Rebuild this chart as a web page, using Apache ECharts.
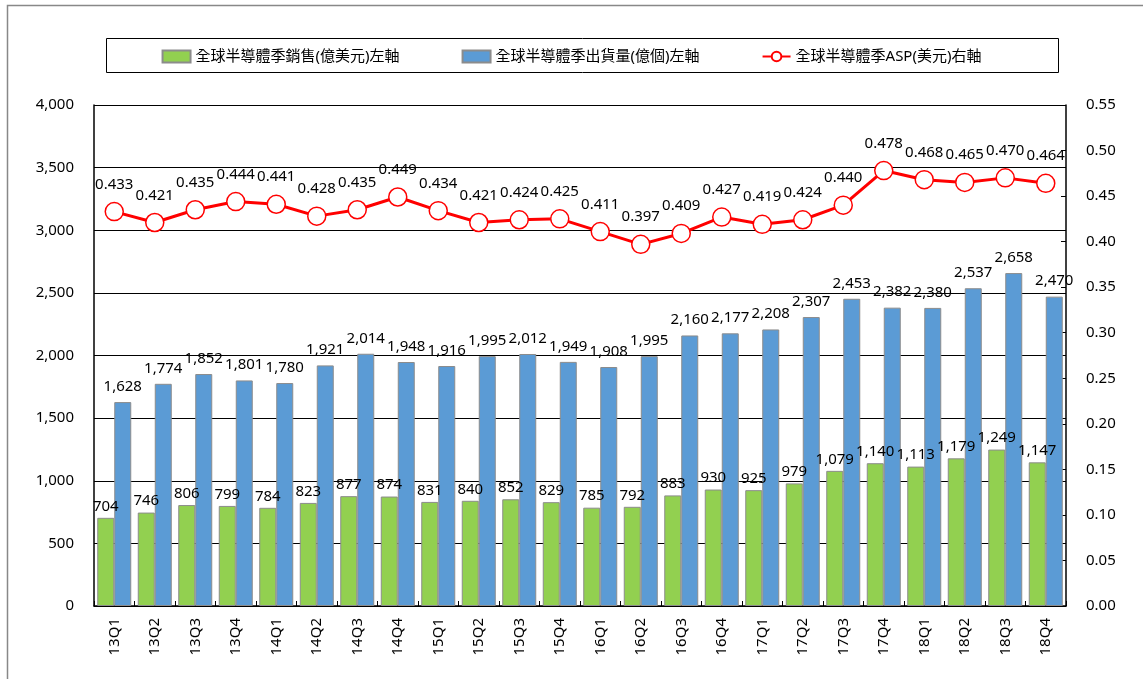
<!DOCTYPE html>
<html>
<head>
<meta charset="utf-8">
<script src="https://cdn.jsdelivr.net/npm/echarts@6/dist/echarts.min.js"></script>
<style>
  html, body { margin: 0; padding: 0; background: #fff; }
  #chart { width: 1143px; height: 679px; }
</style>
</head>
<body>
<div id="chart"></div>
<script>
// 季度
var quarters = ['13Q1','13Q2','13Q3','13Q4','14Q1','14Q2','14Q3','14Q4','15Q1','15Q2','15Q3','15Q4',
  '16Q1','16Q2','16Q3','16Q4','17Q1','17Q2','17Q3','17Q4','18Q1','18Q2','18Q3','18Q4'];
// 銷售(億美元)
var sales = [704,746,806,799,784,823,877,874,831,840,852,829,785,792,883,930,925,979,1079,1140,1113,1179,1249,1147];
// 出貨量(億個)
var shipments = [1628,1774,1852,1801,1780,1921,2014,1948,1916,1995,2012,1949,1908,1995,2160,2177,2208,2307,2453,2382,2380,2537,2658,2470];
// ASP(美元)
var asp = [0.433,0.421,0.435,0.444,0.441,0.428,0.435,0.449,0.434,0.421,0.424,0.425,0.411,0.397,0.409,0.427,0.419,0.424,0.440,0.478,0.468,0.465,0.470,0.464];

var names = ['全球半導體季銷售(億美元)左軸', '全球半導體季出貨量(億個)左軸', '全球半導體季ASP(美元)右軸'];
var font = '"Noto Sans", "Noto Sans CJK TC", sans-serif';

var chart = echarts.init(document.getElementById('chart'));

var thousands = function (v) { return echarts.format.addCommas(v); };

chart.setOption({
  animation: false,
  textStyle: { fontFamily: font, color: '#000' },
  graphic: [
    { type: 'rect', shape: { x: 7.5, y: 5.5, width: 1160, height: 700 }, style: { fill: null, stroke: '#888', lineWidth: 1.5 } },
    { type: 'rect', shape: { x: 106.5, y: 38.5, width: 952, height: 34 }, style: { fill: null, stroke: '#000', lineWidth: 1 } }
  ],
  legend: {
    top: 44,
    left: 'center',
    itemGap: 62,
    itemWidth: 28,
    itemHeight: 12,
    textStyle: { fontSize: 15, color: '#000', fontFamily: font },
    data: [
      { name: names[0], icon: 'rect' },
      { name: names[1], icon: 'rect' },
      { name: names[2] }
    ]
  },
  grid: { left: 94, right: 77, top: 105, bottom: 73 },
  xAxis: {
    type: 'category',
    data: quarters,
    axisLine: { lineStyle: { color: '#000', width: 1.5 } },
    axisTick: { show: true, inside: true, length: 5, lineStyle: { color: '#000' } },
    axisLabel: { rotate: 90, fontSize: 15, color: '#000', margin: 12 }
  },
  yAxis: [
    {
      type: 'value', min: 0, max: 4000, interval: 500,
      axisLine: { show: true, lineStyle: { color: '#000', width: 1.5 } },
      axisTick: { show: false },
      axisLabel: { fontSize: 15, color: '#000', margin: 20, formatter: thousands },
      splitLine: { show: true, lineStyle: { color: '#000', width: 1 } }
    },
    {
      type: 'value', min: 0, max: 0.55, interval: 0.05,
      axisLine: { show: true, lineStyle: { color: '#000', width: 1.5 } },
      axisTick: { show: true, inside: true, length: 5, lineStyle: { color: '#000' } },
      axisLabel: { fontSize: 15, color: '#000', margin: 20, formatter: function (v) { return v.toFixed(2); } },
      splitLine: { show: false }
    }
  ],
  series: [
    {
      name: names[0], type: 'bar', data: sales,
      barWidth: 17, barGap: '0%',
      itemStyle: { color: '#92d050', borderColor: '#8c8c8c', borderWidth: 1 },
      label: { show: true, position: 'top', fontSize: 15, color: '#000', distance: 4, formatter: function (p) { return thousands(p.value); } }
    },
    {
      name: names[1], type: 'bar', data: shipments,
      barWidth: 17,
      itemStyle: { color: '#5b9bd5', borderColor: '#8c8c8c', borderWidth: 1 },
      label: { show: true, position: 'top', fontSize: 15, color: '#000', distance: 8, formatter: function (p) { return thousands(p.value); } }
    },
    {
      name: names[2], type: 'line', yAxisIndex: 1, data: asp,
      symbol: 'circle', symbolSize: 18,
      lineStyle: { color: '#ff0000', width: 3 },
      itemStyle: { color: '#fff', borderColor: '#ff0000', borderWidth: 1.5 },
      label: { show: true, position: 'top', distance: 10, fontSize: 15, color: '#000', formatter: function (p) { return p.value.toFixed(3); } },
      z: 5
    }
  ]
});
</script>
</body>
</html>
